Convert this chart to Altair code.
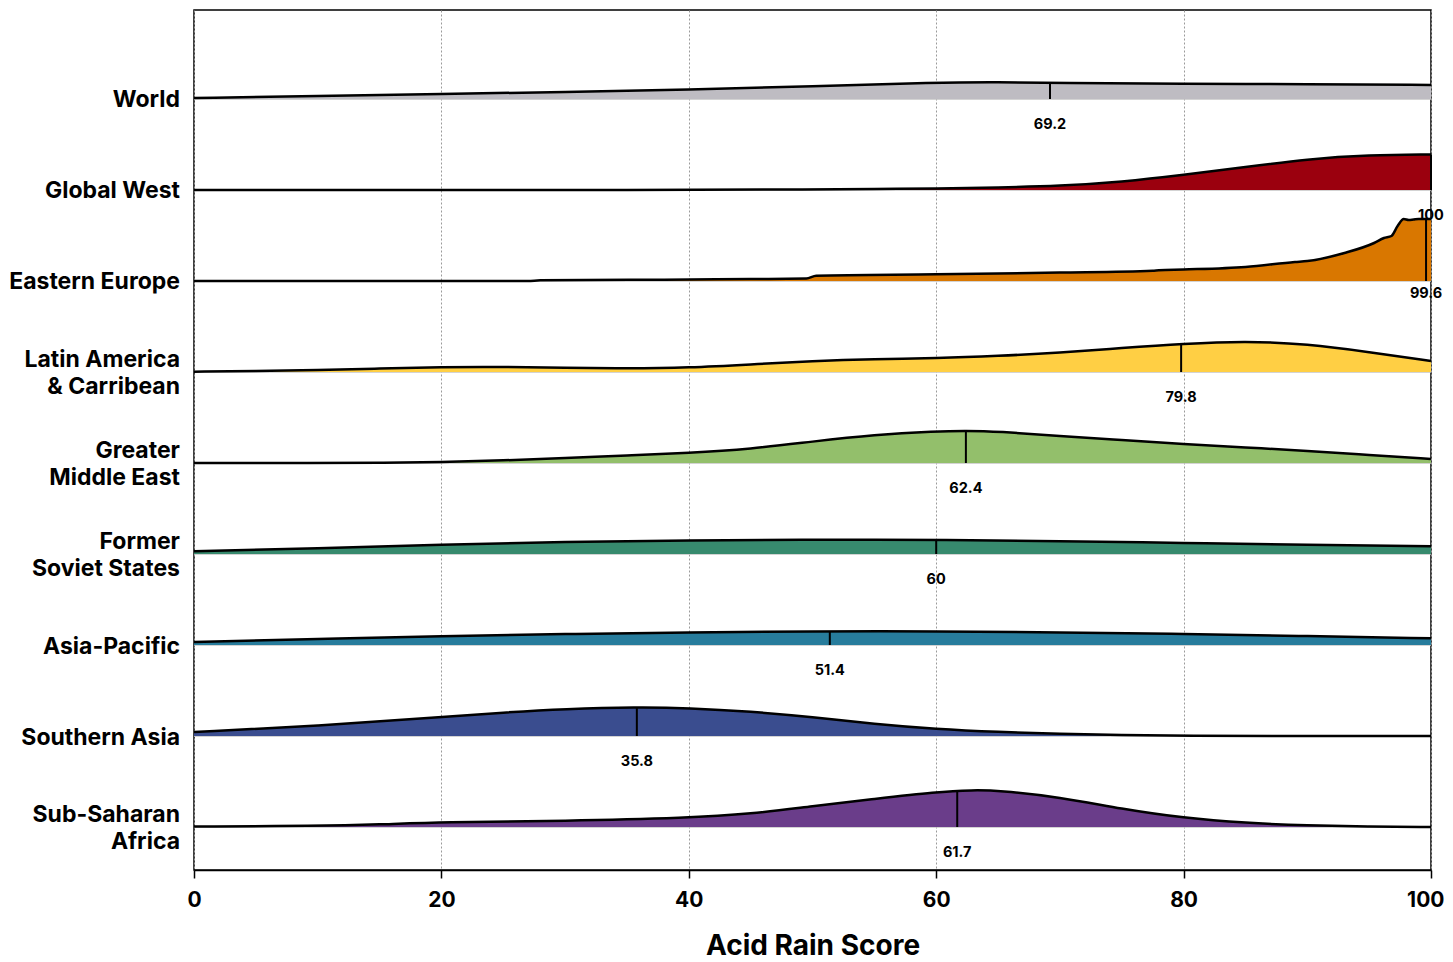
import altair as alt
import numpy as np
import pandas as pd

# ---------------- data ----------------
REGIONS = ["World", "Global West", "Eastern Europe", "Latin America & Carribean",
           "Greater Middle East", "Former Soviet States", "Asia-Pacific",
           "Southern Asia", "Sub-Saharan Africa"]
LABELS = ["World", "Global West", "Eastern Europe", "Latin America\n& Carribean",
          "Greater\nMiddle East", "Former\nSoviet States", "Asia-Pacific",
          "Southern Asia", "Sub-Saharan\nAfrica"]
COLORS = ["#bebcc2", "#9b000e", "#d97700", "#ffcf44", "#93bf6b",
          "#378a6e", "#277c9c", "#3a4d8f", "#6a3d8a"]
MEDIANS = [69.2, 100, 99.6, 79.8, 62.4, 60, 51.4, 35.8, 61.7]
X_TICKS = [0, 20, 40, 60, 80, 100]

# density curves (relative height)
X_WORLD = [0, 10, 20, 30, 40, 50, 60, 65, 70, 80, 90, 100]
H_WORLD = [1, 3, 5, 7, 9.5, 12.5, 16.5, 17, 16, 15, 15, 14]

X_WEST = [0, 40, 50, 55, 60, 65, 70, 75, 80, 85, 90, 95, 100]
H_WEST = [0, 0, 0.5, 1, 1.5, 2.5, 4, 8, 15, 23, 31, 35, 35.5]

X_EEUR = [0, 27, 28, 38, 45, 49.5, 50.3, 60, 70, 77.5, 78, 80, 85, 89, 90, 93,
          95.4, 96.2, 96.8, 97.3, 97.8, 98.2, 98.6, 99, 100]
H_EEUR = [0, 0, 0.7, 1.3, 2, 2.5, 5.3, 6.7, 8.4, 10.3, 10.8, 11.5, 14, 19, 20, 28,
          38, 43, 45, 55, 62, 61, 61.5, 62, 62]

X_LATAM = [0, 5, 10, 15, 20, 25, 30, 35, 40, 45, 50, 55, 60, 65, 70, 75, 80, 85,
           90, 95, 100]
H_LATAM = [0.3, 1, 1.7, 3.5, 5, 5.2, 4.2, 3.5, 4.3, 7.5, 11, 13, 13.7, 16, 19.3,
           24, 28.3, 31, 28, 20, 11]

X_MEAST = [0, 10, 15, 20, 25, 30, 35, 40, 45, 50, 55, 60, 62.4, 65, 70, 75, 80,
           85, 90, 95, 100]
H_MEAST = [0, 0, 0.2, 1, 2.5, 5, 7.5, 10, 14, 21.5, 28.3, 31.7, 32.3, 31.5, 27,
           23, 19, 15.5, 12.3, 8, 4]

X_FSU = [0, 10, 20, 30, 40, 50, 55, 60, 70, 80, 90, 100]
H_FSU = [2.7, 5.7, 9.3, 12.3, 13.7, 14.3, 14.3, 14, 13, 11, 9.3, 7.7]

X_APAC = [0, 10, 20, 30, 40, 50, 60, 70, 80, 90, 100]
H_APAC = [3, 6, 9, 11, 12.7, 13.7, 13.7, 12.7, 11, 9, 6.7]

X_SASIA = [0, 10, 20, 25, 30, 35.8, 40, 45, 50, 55, 60, 65, 70, 75, 80, 90, 100]
H_SASIA = [4, 10, 19, 23.5, 27, 29, 28, 24.5, 19, 12, 7, 4, 2, 0.8, 0.2, 0, 0]

X_SSA = [0, 10, 15, 20, 30, 40, 45, 50, 55, 60, 63, 65, 70, 75, 80, 85, 90, 95, 100]
H_SSA = [0.5, 1, 2.5, 5, 6, 9, 13, 21, 28, 35, 37, 36.5, 30, 18, 9, 4, 1.5, 0.5, 0]

CURVES = [(X_WORLD, H_WORLD), (X_WEST, H_WEST), (X_EEUR, H_EEUR),
          (X_LATAM, H_LATAM), (X_MEAST, H_MEAST), (X_FSU, H_FSU),
          (X_APAC, H_APAC), (X_SASIA, H_SASIA), (X_SSA, H_SSA)]

HEIGHT_SCALE = 1 / 91.0  # density units -> row units

# ---------------- tables ----------------
n = len(REGIONS)
rows = []
for i, (reg, (xs, hs)) in enumerate(zip(REGIONS, CURVES)):
    base = n - 1 - i
    for x, h in zip(xs, hs):
        rows.append({"region": reg, "x": x, "base": base, "top": base + h * HEIGHT_SCALE})
curve_df = pd.DataFrame(rows)

meta = []
for i, (reg, lab, med, (xs, hs)) in enumerate(zip(REGIONS, LABELS, MEDIANS, CURVES)):
    base = n - 1 - i
    meta.append({
        "region": reg, "name": lab, "base": base, "median": med,
        "tick_top": base + float(np.interp(med, xs, hs)) * HEIGHT_SCALE,
        "mlabel": f"{med:g}",
        "lines": lab.count("\n") + 1,
    })
meta_df = pd.DataFrame(meta)

FONT = "Inter"
W, H = 1237, 860

xscale = alt.Scale(domain=[0, 100], nice=False, zero=False)
yscale = alt.Scale(domain=[-0.4725, 8.978], nice=False, zero=False)

x_axis = alt.Axis(values=X_TICKS, grid=True, gridDash=[2, 2],
                  gridColor="#9a9a9a", gridWidth=1, domainColor="black", domainWidth=1.5,
                  tickColor="black", tickSize=8, tickWidth=1.5, labelFlush=False,
                  labelAlign={"condition": {"test": "datum.value == 100", "value": "right"},
                              "value": "center"},
                  labelOffset={"condition": {"test": "datum.value == 100", "value": 13},
                               "value": 0},
                  labelFont=FONT, labelFontSize=21, labelFontWeight="bold",
                  labelColor="black", labelPadding=11,
                  title="Acid Rain Score", titleFont=FONT, titleFontSize=28,
                  titleFontWeight="bold", titleColor="black", titlePadding=22)

base_rule = alt.Chart(meta_df).mark_rule(color="#c4c4c4", strokeWidth=1.5).encode(
    x=alt.datum(0, scale=xscale, axis=x_axis, type="quantitative"),
    x2=alt.datum(100),
    y=alt.Y("base:Q", scale=yscale, axis=None),
)

smooth = alt.datum.region != "Eastern Europe"
rough = alt.datum.region == "Eastern Europe"


def area_layer(flt, interp):
    return alt.Chart(curve_df).transform_filter(flt).mark_area(interpolate=interp).encode(
        x=alt.X("x:Q", scale=xscale, axis=x_axis),
        y=alt.Y("top:Q", scale=yscale, axis=None, stack=None),
        y2="base:Q",
        color=alt.Color("region:N", scale=alt.Scale(domain=REGIONS, range=COLORS),
                        legend=None),
        detail="region:N",
    )


def line_layer(flt, interp):
    return alt.Chart(curve_df).transform_filter(flt).mark_line(
        interpolate=interp, color="black", strokeWidth=2.5).encode(
        x=alt.X("x:Q", scale=xscale),
        y=alt.Y("top:Q", scale=yscale),
        detail="region:N",
    )


ticks = alt.Chart(meta_df).mark_rule(color="black", strokeWidth=2).encode(
    x=alt.X("median:Q", scale=xscale),
    y=alt.Y("base:Q", scale=yscale),
    y2="tick_top:Q",
)


def med_text(flt, dy):
    return alt.Chart(meta_df).transform_filter(flt).mark_text(
        dy=dy, baseline="middle", font=FONT, fontSize=14.5, fontWeight="bold",
        color="black").encode(
        x=alt.X("median:Q", scale=xscale),
        y=alt.Y("base:Q", scale=yscale),
        text="mlabel:N",
    )


def row_text(flt, dy):
    return alt.Chart(meta_df).transform_filter(flt).mark_text(
        align="right", baseline="middle", font=FONT, fontSize=23, fontWeight="bold",
        color="black", lineBreak="\n", lineHeight=27, dy=dy).encode(
        x=alt.value(-14),
        y=alt.Y("base:Q", scale=yscale),
        text="name:N",
    )


chart = alt.layer(
    base_rule,
    area_layer(smooth, "basis"), area_layer(rough, "monotone"),
    line_layer(smooth, "basis"), line_layer(rough, "monotone"),
    ticks,
    med_text(smooth, 26), med_text(rough, 13),
    row_text(alt.datum.lines == 1, 1.5), row_text(alt.datum.lines == 2, -12),
).properties(
    width=W, height=H,
    autosize=alt.AutoSizeParams(type="none"),
    padding={"left": 186, "top": 2, "right": 14, "bottom": 92},
).configure_view(stroke="black", strokeWidth=1.5)

chart.save("out.html", embed_options={"renderer": "svg", "actions": False})
